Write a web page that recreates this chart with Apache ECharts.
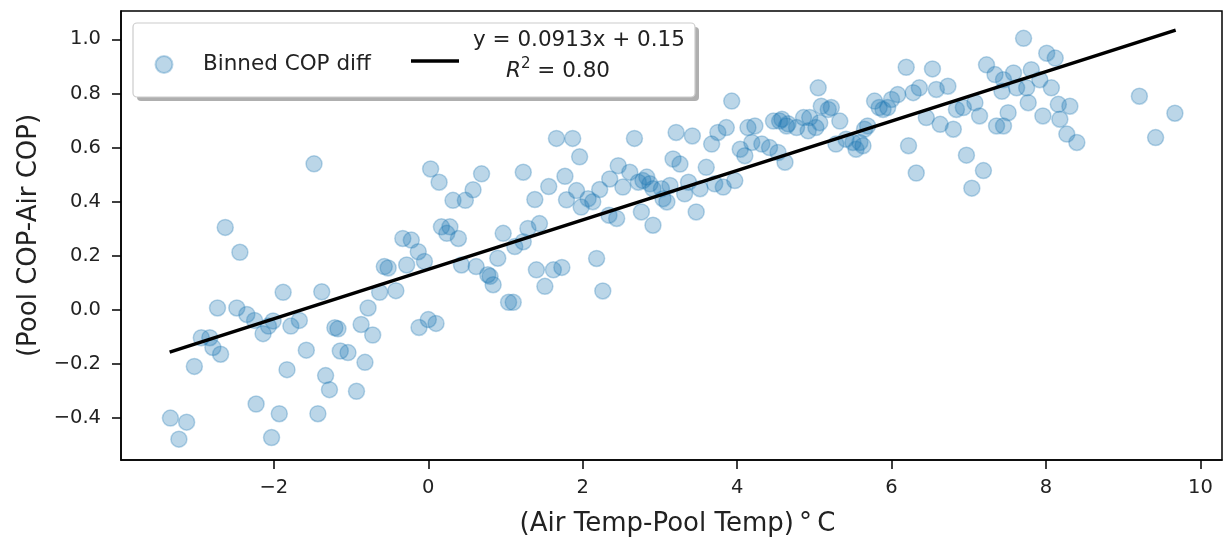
<!DOCTYPE html>
<html><head><meta charset="utf-8">
<script src="https://cdn.jsdelivr.net/npm/echarts@6/dist/echarts.min.js"></script>
<style>html,body{margin:0;padding:0;background:#fff}#c{width:1223px;height:542px}</style>
</head><body><div id="c"></div>
<script>
// Binned COP diff points (x: Air-Pool temp diff, y: COP diff)
const pointX = [-3.34,-3.13,-3.23,-3.03,-2.94,-2.83,-2.79,-2.69,-2.73,-2.63,-2.48,-2.44,-2.35,-2.25,-2.23,-2.14,-2.07,-2.01,-2.03,-1.93,
 -1.88,-1.83,-1.78,-1.67,-1.58,-1.48,-1.43,-1.38,-1.33,-1.28,-1.21,-1.17,-1.14,-1.04,-0.93,-0.87,-0.82,-0.78,-0.72,-0.63,
 -0.57,-0.52,-0.42,-0.33,-0.22,-0.28,-0.13,-0.12,-0.05,0.00,0.10,0.03,0.14,0.17,0.28,0.24,0.32,0.39,0.43,0.48,
 0.58,0.62,0.69,0.77,0.80,0.84,0.90,0.97,1.04,1.10,1.12,1.23,1.23,1.29,1.38,1.40,1.44,1.51,1.56,1.62,
 1.66,1.73,1.77,1.79,1.87,1.92,1.96,1.98,2.07,2.13,2.18,2.22,2.26,2.35,2.34,2.44,2.46,2.52,2.61,2.67,
 2.72,2.76,2.78,2.83,2.87,2.91,2.91,3.02,3.04,3.09,3.13,3.17,3.21,3.26,3.32,3.37,3.42,3.47,3.52,3.60,
 3.67,3.71,3.75,3.82,3.86,3.93,3.97,4.04,4.10,4.14,4.19,4.23,4.32,4.42,4.47,4.53,4.55,4.58,4.62,4.64,
 4.66,4.77,4.86,4.94,4.92,5.02,5.05,5.09,5.07,5.18,5.22,5.28,5.33,5.41,5.50,5.54,5.59,5.63,5.65,5.69,
 5.78,5.84,5.89,5.95,6.00,6.08,6.19,6.22,6.28,6.32,6.36,6.45,6.53,6.58,6.63,6.73,6.80,6.84,6.93,6.97,
 7.04,7.08,7.14,7.19,7.23,7.34,7.36,7.43,7.45,7.45,7.51,7.58,7.62,7.71,7.75,7.77,7.81,7.92,7.96,8.01,
 8.07,8.12,8.16,8.18,8.27,8.31,8.40,9.21,9.42,9.67];
const pointY = [-0.400,-0.415,-0.478,-0.209,-0.103,-0.103,-0.139,-0.164,0.007,0.305,0.007,0.213,-0.017,-0.039,-0.348,-0.088,-0.060,-0.041,-0.472,-0.384,
 0.065,-0.221,-0.060,-0.039,-0.149,0.540,-0.384,0.067,-0.243,-0.295,-0.066,-0.070,-0.152,-0.158,-0.301,-0.054,-0.194,0.007,-0.093,0.065,
 0.160,0.155,0.071,0.264,0.258,0.166,0.215,-0.065,0.179,-0.036,-0.050,0.521,0.472,0.307,0.307,0.283,0.405,0.264,0.166,0.405,
 0.444,0.160,0.503,0.130,0.124,0.093,0.191,0.283,0.028,0.028,0.234,0.252,0.509,0.301,0.408,0.148,0.319,0.087,0.456,0.148,
 0.634,0.157,0.494,0.407,0.634,0.441,0.566,0.380,0.411,0.400,0.190,0.445,0.070,0.484,0.350,0.338,0.533,0.454,0.509,0.634,
 0.472,0.362,0.478,0.491,0.466,0.313,0.448,0.448,0.411,0.399,0.460,0.558,0.656,0.539,0.429,0.472,0.643,0.362,0.448,0.527,
 0.613,0.466,0.656,0.454,0.674,0.772,0.478,0.594,0.570,0.674,0.619,0.680,0.613,0.600,0.698,0.582,0.698,0.705,0.546,0.680,
 0.688,0.674,0.711,0.711,0.662,0.674,0.821,0.753,0.692,0.741,0.748,0.613,0.698,0.631,0.619,0.594,0.619,0.607,0.668,0.680,
 0.772,0.748,0.741,0.748,0.778,0.796,0.897,0.607,0.803,0.506,0.821,0.711,0.891,0.815,0.686,0.827,0.668,0.741,0.748,0.572,
 0.450,0.766,0.717,0.515,0.906,0.870,0.680,0.808,0.851,0.680,0.729,0.876,0.821,1.004,0.821,0.766,0.888,0.851,0.717,0.949,
 0.821,0.931,0.760,0.705,0.650,0.753,0.619,0.790,0.637,0.727];
// Fitted line end points (y = 0.0913x + 0.15)
const fitLineX = [-3.35, 9.68];
const fitLineY = [-0.156, 1.034];
const xTickValues = [-2, 0, 2, 4, 6, 8, 10];
const xTickLabels = ['\u22122', '0', '2', '4', '6', '8', '10'];
const yTickValues = [-0.4, -0.2, 0, 0.2, 0.4, 0.6, 0.8, 1.0];
const yTickLabels = ['\u22120.4', '\u22120.2', '0.0', '0.2', '0.4', '0.6', '0.8', '1.0'];
const scatterName = 'Binned COP diff';
const fitName = 'y = 0.0913x + 0.15';
const fitR2 = '0.80';

const FONT = "'DejaVu Sans', sans-serif";
function lab(values, labels) {
  return function (v) {
    const i = values.findIndex(t => Math.abs(t - v) < 1e-6);
    return i >= 0 ? labels[i] : '';
  };
}
const chart = echarts.init(document.getElementById('c'), null, {renderer: 'canvas'});
chart.setOption({
  animation: false,
  backgroundColor: '#fff',
  grid: {left: 121, top: 11, right: 1, bottom: 79, show: true, borderColor: '#000', borderWidth: 1.5, backgroundColor: '#fff'},
  xAxis: {
    type: 'value', min: -3.98, max: 10.28,
    axisLine: {show: true, onZero: false, lineStyle: {color: '#000', width: 1.5}},
    splitLine: {show: false},
    axisTick: {show: true, length: 9, lineStyle: {color: '#000', width: 1.5}, customValues: xTickValues},
    axisLabel: {customValues: xTickValues, formatter: lab(xTickValues, xTickLabels), fontSize: 19.5, color: '#222', margin: 18, fontFamily: FONT},
    name: '(Air Temp-Pool Temp)\u2009\u00b0\u2009C', nameLocation: 'middle', nameGap: 51,
    nameTextStyle: {fontSize: 26, color: '#222', fontFamily: FONT, padding: [0, 0, 0, 12]}
  },
  yAxis: {
    type: 'value', min: -0.555, max: 1.105,
    axisLine: {show: true, onZero: false, lineStyle: {color: '#000', width: 1.5}},
    splitLine: {show: false},
    axisTick: {show: true, length: 9, lineStyle: {color: '#000', width: 1.5}, customValues: yTickValues},
    axisLabel: {customValues: yTickValues, formatter: lab(yTickValues, yTickLabels), fontSize: 19.5, color: '#222', margin: 20, fontFamily: FONT},
    name: '(Pool COP-Air COP)', nameLocation: 'middle', nameGap: 76, nameRotate: 90,
    nameTextStyle: {fontSize: 26, color: '#222', fontFamily: FONT}
  },
  graphic: [
    {type: 'rect', z: 10, silent: true, shape: {x: 137, y: 27, width: 562, height: 74, r: 4}, style: {fill: 'rgba(110,110,110,0.55)'}},
    {type: 'rect', z: 11, silent: true, shape: {x: 133, y: 23, width: 562, height: 74, r: 4}, style: {fill: '#fff', stroke: '#cccccc', lineWidth: 1.2}}
  ],
  legend: [
    {
      z: 20, left: 154.5, top: 53.5, padding: 0, itemWidth: 17, itemHeight: 17, selectedMode: false,
      data: [{name: scatterName, icon: 'circle'}],
      textStyle: {fontSize: 21.5, color: '#222', fontFamily: FONT, padding: [0, 0, 0, 25.5]}
    },
    {
      z: 20, left: 411, top: 29.75, padding: 0, itemWidth: 48, itemHeight: 3.5, selectedMode: false,
      data: [{name: fitName, icon: 'rect', itemStyle: {color: '#000'}}],
      formatter: function (n) { return '{a|' + n + '}\n{r|R}{s|2}{b| = ' + fitR2 + '}'; },
      textStyle: {
        color: '#222', fontFamily: FONT, fontSize: 21.5, padding: [0, 0, 9.5, 9],
        rich: {
          a: {fontSize: 21.5, fontFamily: FONT, color: '#222', lineHeight: 31},
          r: {fontSize: 21.5, fontFamily: FONT, color: '#222', fontStyle: 'italic', lineHeight: 31, padding: [0, 0, 0, 33]},
          s: {fontSize: 15, fontFamily: FONT, color: '#222', lineHeight: 20, verticalAlign: 'top'},
          b: {fontSize: 21.5, fontFamily: FONT, color: '#222', lineHeight: 31}
        }
      }
    }
  ],
  series: [
    {
      type: 'scatter', name: scatterName, z: 2,
      data: pointX.map((x, i) => [x, pointY[i]]),
      symbol: 'circle', symbolSize: 16,
      itemStyle: {color: 'rgba(31,119,180,0.3)', borderColor: 'rgba(31,119,180,0.3)', borderWidth: 1.5, opacity: 1},
      emphasis: {disabled: true}
    },
    {
      type: 'line', name: fitName, z: 3,
      data: fitLineX.map((x, i) => [x, fitLineY[i]]),
      symbol: 'none', showSymbol: false,
      lineStyle: {color: '#000', width: 3.5},
      itemStyle: {color: '#000'},
      emphasis: {disabled: true}
    }
  ]
});
</script>
</body></html>
